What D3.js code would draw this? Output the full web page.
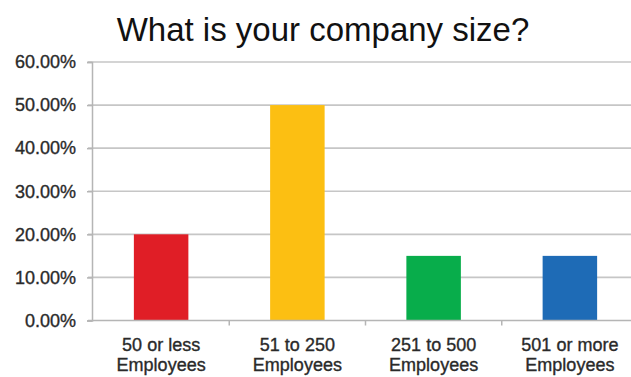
<!DOCTYPE html>
<html>
<head>
<meta charset="utf-8">
<script src="https://cdn.jsdelivr.net/npm/d3@7"></script>
<style>
  html, body { margin: 0; padding: 0; background: #fff; }
  svg { display: block; font-family: "Liberation Sans", Arial, sans-serif; }
</style>
</head>
<body>
<svg id="chart" width="631" height="377"></svg>
<script>
const titleText = "What is your company size?";
const categories = ["50 or less\nEmployees", "51 to 250\nEmployees", "251 to 500\nEmployees", "501 or more\nEmployees"];
const values = [0.20, 0.50, 0.15, 0.15];
const barColors = ["#e01e26", "#fcbf12", "#08ad4b", "#1e6bb6"];
const yTicks = [0, 0.1, 0.2, 0.3, 0.4, 0.5, 0.6];

const svg = d3.select("#chart");
const plotLeft = 93, plotRight = 638, plotTop = 62, plotBottom = 320.5;

const x = d3.scaleBand().domain(categories).range([plotLeft, plotRight]).paddingInner(0.6).paddingOuter(0.3);
const y = d3.scaleLinear().domain([0, 0.6]).range([plotBottom, plotTop]);

// title
svg.append("text")
  .attr("x", 323).attr("y", 41)
  .attr("text-anchor", "middle")
  .attr("font-size", 33)
  .attr("fill", "#111")
  .text(titleText);

// horizontal gridlines
svg.append("g")
  .selectAll("line")
  .data(yTicks.filter(d => d > 0))
  .join("line")
  .attr("x1", plotLeft - 5).attr("x2", 631)
  .attr("y1", d => y(d)).attr("y2", d => y(d))
  .attr("stroke", "#c6c6c6").attr("stroke-width", 1.6);

// y axis
const yAxis = svg.append("g")
  .attr("transform", `translate(${plotLeft - 1},0)`)
  .call(d3.axisLeft(y).tickValues(yTicks).tickFormat(d3.format(".2%")).tickSize(5).tickPadding(11));
yAxis.select(".domain").attr("stroke", "#b5b5b5").attr("stroke-width", 1.5);
yAxis.selectAll(".tick line").attr("stroke", "#b5b5b5").attr("stroke-width", 1.5);
yAxis.selectAll(".tick text")
  .attr("font-size", 18).attr("fill", "#2a2a2a")
  .attr("stroke", "#2a2a2a").attr("stroke-width", 0.35)
  .attr("font-family", "Liberation Sans, Arial, sans-serif");

// bars
svg.append("g")
  .selectAll("rect")
  .data(values)
  .join("rect")
  .attr("x", (d, i) => x(categories[i]))
  .attr("width", x.bandwidth())
  .attr("y", d => y(d))
  .attr("height", d => y(0) - y(d))
  .attr("fill", (d, i) => barColors[i]);

// x axis baseline with category boundary ticks
const gap = (x.step() - x.bandwidth()) / 2;
svg.append("line")
  .attr("x1", plotLeft - 5).attr("x2", 631)
  .attr("y1", plotBottom).attr("y2", plotBottom)
  .attr("stroke", "#b5b5b5").attr("stroke-width", 1.6);
svg.append("g")
  .selectAll("line")
  .data(categories.slice(1))
  .join("line")
  .attr("x1", d => x(d) - gap)
  .attr("x2", d => x(d) - gap)
  .attr("y1", plotBottom).attr("y2", plotBottom + 5)
  .attr("stroke", "#b5b5b5").attr("stroke-width", 1.5);

// category labels (two lines each)
const labels = svg.append("g")
  .selectAll("text")
  .data(categories)
  .join("text")
  .attr("text-anchor", "middle")
  .attr("font-size", 18)
  .attr("fill", "#2a2a2a")
  .attr("stroke", "#2a2a2a").attr("stroke-width", 0.35)
  .attr("transform", d => `translate(${x(d) + x.bandwidth() / 2},0)`);
labels.each(function(d) {
  d3.select(this).selectAll("tspan")
    .data(d.split("\n"))
    .join("tspan")
    .attr("x", 0)
    .attr("y", (l, i) => 351 + i * 20)
    .text(l => l);
});
</script>
</body>
</html>
